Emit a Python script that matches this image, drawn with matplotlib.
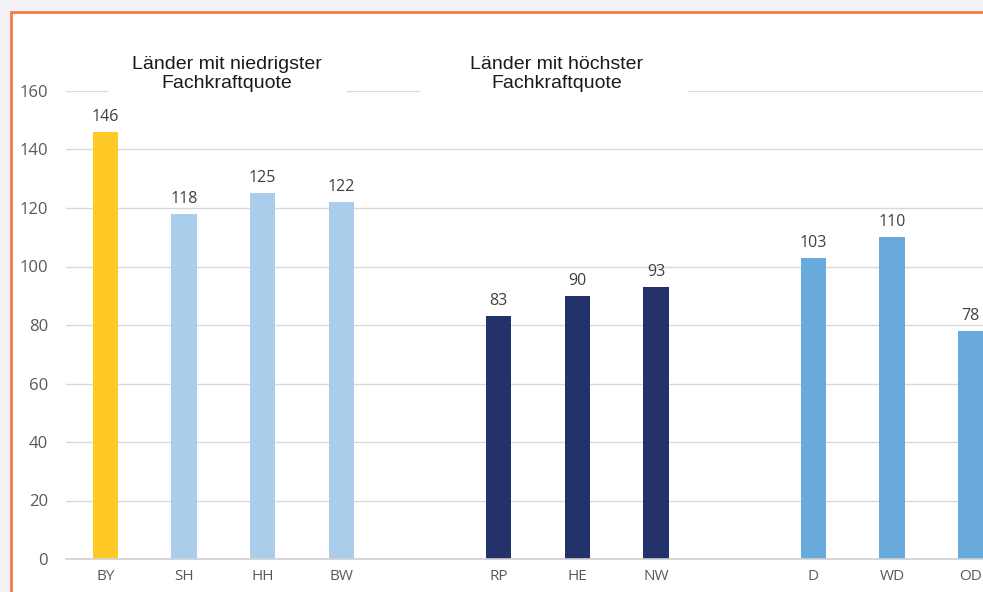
import matplotlib
matplotlib.use("Agg")
import matplotlib.pyplot as plt
from matplotlib.patches import Rectangle

categories = ["BY", "SH", "HH", "BW", "RP", "HE", "NW", "D", "WD", "OD"]
positions = [0, 1, 2, 3, 5, 6, 7, 9, 10, 11]
values = [146, 118, 125, 122, 83, 90, 93, 103, 110, 78]
colors = ["#FFC926", "#A9CDEA", "#A9CDEA", "#A9CDEA",
          "#23326A", "#23326A", "#23326A",
          "#67AADB", "#67AADB", "#67AADB"]
yticks = [0, 20, 40, 60, 80, 100, 120, 140, 160]
group_titles = ["Länder mit niedrigster\nFachkraftquote", "Länder mit höchster\nFachkraftquote"]

W, H = 983, 592
fig = plt.figure(figsize=(W / 100, H / 100), dpi=100, facecolor="#F3F3F5")

# white panel with orange border
panel = Rectangle((11 / W, -0.1), 1.2, (H - 12) / H + 0.1, transform=fig.transFigure,
                  facecolor="white", edgecolor="#F47A45", linewidth=2, zorder=-5)
fig.patches.append(panel)

ax = fig.add_axes([66 / W, 33 / H, (1010 - 66) / W, (559 - 91) / H])
ax.set_zorder(2)
ax.set_facecolor("none")
ax.bar(positions, values, width=0.32, color=colors, zorder=2)
for p, v in zip(positions, values):
    ax.annotate(str(v), (p, v), xytext=(0, 5), textcoords="offset points",
                ha="center", va="bottom", fontsize=11.5, color="#404040",
                family="Open Sans", zorder=3)

ax.set_xlim(-0.5, 11.5)
ax.set_ylim(0, 160)
ax.set_yticks(yticks)
ax.set_xticks(positions)
ax.set_xticklabels(categories)
ax.yaxis.grid(True, color="#D9D9D9", linewidth=1)
ax.set_axisbelow(True)
for s in ["top", "right", "left"]:
    ax.spines[s].set_visible(False)
ax.spines["bottom"].set_color("#D0D0D0")
ax.spines["bottom"].set_linewidth(1.2)
ax.tick_params(axis="both", length=0, colors="#595959")
ax.tick_params(axis="y", pad=13, labelsize=12)
ax.tick_params(axis="x", pad=7, labelsize=11)
for lab in ax.get_xticklabels() + ax.get_yticklabels():
    lab.set_family("Open Sans")

# white boxes behind group titles
for (x0, x1) in [(108, 347), (420, 688)]:
    ax.add_patch(Rectangle((x0 / W, (H - 100) / H), (x1 - x0) / W, 52 / H,
                           transform=fig.transFigure, facecolor="white",
                           edgecolor="none", zorder=1, clip_on=False))
for cx, t in zip([227, 557], group_titles):
    fig.text(cx / W, (H - 74) / H, t, ha="center", va="center", fontsize=14,
             family="Liberation Sans", color="#1A1A1A", linespacing=1.15,
             zorder=5)

fig.savefig("out.png", dpi=100, facecolor=fig.get_facecolor())
